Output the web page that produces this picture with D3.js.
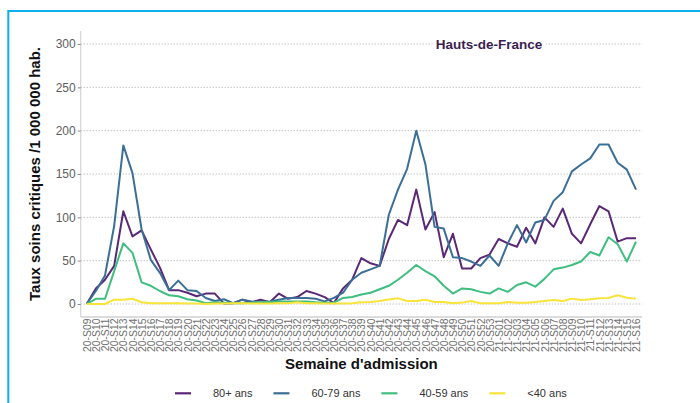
<!DOCTYPE html>
<html>
<head>
<meta charset="utf-8">
<script src="https://cdn.jsdelivr.net/npm/d3@7"></script>
<style>
  html, body { margin: 0; padding: 0; background: #fff; }
  svg { display: block; font-family: "Liberation Sans", Arial, sans-serif; }
</style>
</head>
<body>
<svg id="chart" width="700" height="403"></svg>
<script>
// ---------- DATA ----------
const weeks = [
  "20-S09","20-S10","20-S11","20-S12","20-S13","20-S14","20-S15","20-S16","20-S17","20-S18",
  "20-S19","20-S20","20-S21","20-S22","20-S23","20-S24","20-S25","20-S26","20-S27","20-S28",
  "20-S29","20-S30","20-S31","20-S32","20-S33","20-S34","20-S35","20-S36","20-S37","20-S38",
  "20-S39","20-S40","20-S41","20-S42","20-S43","20-S44","20-S45","20-S46","20-S47","20-S48",
  "20-S49","20-S50","20-S51","20-S52","20-S53","21-S01","21-S02","21-S03","21-S04","21-S05",
  "21-S06","21-S07","21-S08","21-S09","21-S10","21-S11","21-S12","21-S13","21-S14","21-S15","21-S16"
];
const age80plus = [
  0, 18, 28, 44, 107, 78, 85, 63, 42, 16,
  16, 13, 9, 12, 12, 0.5, 1, 5, 2, 5,
  2, 12, 6, 8, 15, 12, 8, 1, 18, 28,
  53, 47, 44, 75, 97, 91, 132, 86, 106, 54,
  81, 41, 41, 53, 57, 75, 70, 66, 88, 70,
  100, 89, 110, 81, 70, 92, 113, 107, 72, 76, 76
];
const age60to79 = [
  0, 15, 33, 90, 183, 151, 86, 51, 36, 16,
  27, 16, 15, 7, 3.5, 5.5, 1, 5, 3, 2,
  3, 5, 7, 7, 7, 6, 3, 7, 13, 28,
  36, 40, 44, 103, 132, 156, 200, 161, 89, 87,
  54, 53, 49, 44, 56, 44, 70, 91, 71, 94,
  97, 119, 129, 153, 161, 168, 184, 184, 163, 155, 132
];
const age40to59 = [
  0, 6, 6, 38, 70, 59, 25, 21, 15, 10,
  9, 5.5, 4, 1, 2, 1.5, 1, 1, 1.5, 2.5,
  2, 3, 3, 3, 3, 2, 1.5, 1.5, 7, 8,
  11, 13, 17, 21, 28, 36, 45, 38, 32, 21,
  12, 18, 17, 14, 12, 18, 14, 22, 25, 20,
  29, 40, 42, 45, 49, 60, 56, 77, 69, 49, 72
];
const ageUnder40 = [
  0, 0, 0, 5, 5, 6, 2, 1, 1, 1,
  1, 0.5, 0.5, 0, 0.5, 0.5, 1, 1, 0.5, 0.5,
  0.5, 1, 1, 2, 1, 1, 0.5, 0.5, 0.5, 1,
  2, 2.3, 3.4, 5.3, 6.5, 3.4, 3.4, 5, 2.3, 2.3,
  0.8, 1.6, 3.4, 0.8, 0.8, 0.8, 2.3, 1.5, 1.5, 2.3,
  3.5, 4.6, 3.5, 6.2, 4.6, 5.4, 6.5, 6.9, 10, 7.3, 6.2
];
const seriesNames = ["80+ ans", "60-79 ans", "40-59 ans", "<40 ans"];
const seriesValues = [age80plus, age60to79, age40to59, ageUnder40];
const seriesColors = ["#5a2876", "#3b6f96", "#3fbe7f", "#f9e43a"];
const yTicks = [0, 50, 100, 150, 200, 250, 300];
const chartTitle = "Hauts-de-France";
const yTitle = "Taux soins critiques /1 000 000 hab.";
const xTitle = "Semaine d'admission";

// ---------- LAYOUT ----------
const svg = d3.select("#chart");
const panel = { left: 80.7, right: 642, top: 31, bottom: 317 };

const x = d3.scalePoint().domain(weeks).range([86.7, 636]);
const y = d3.scaleLinear().domain([-15, 315]).range([panel.bottom, panel.top]);

// outer cyan frame
svg.append("rect")
  .attr("x", 8.3).attr("y", 11).attr("width", 800).attr("height", 600)
  .attr("fill", "none").attr("stroke", "#0cb0ea").attr("stroke-width", 2);

// gridlines
svg.append("g").selectAll("line").data(yTicks).join("line")
  .attr("x1", panel.left).attr("x2", panel.right)
  .attr("y1", d => y(d)).attr("y2", d => y(d))
  .attr("stroke", "#a8a8a8").attr("stroke-width", 1)
  .attr("stroke-dasharray", "1,2");

// axis lines
svg.append("line")
  .attr("x1", panel.left).attr("x2", panel.left)
  .attr("y1", panel.top).attr("y2", panel.bottom)
  .attr("stroke", "#d4d4d4").attr("stroke-width", 1.2);
svg.append("line")
  .attr("x1", panel.left).attr("x2", panel.right)
  .attr("y1", panel.bottom).attr("y2", panel.bottom)
  .attr("stroke", "#dcdcdc").attr("stroke-width", 2);

// y axis
const yAxis = d3.axisLeft(y).tickValues(yTicks).tickSize(3).tickPadding(2);
const gy = svg.append("g").attr("transform", `translate(${panel.left},0)`).call(yAxis);
gy.select(".domain").remove();
gy.selectAll(".tick line").attr("stroke", "#8a8a8a");
gy.selectAll(".tick text").attr("fill", "#5e5e5e").style("font-size", "12px")
  .style("font-family", "'Liberation Sans', Arial, sans-serif");

// x axis
const xAxis = d3.axisBottom(x).tickSize(0).tickPadding(0);
const gx = svg.append("g").attr("transform", `translate(0,${panel.bottom})`).call(xAxis);
gx.select(".domain").remove();
gx.selectAll(".tick text")
  .attr("fill", "#707070")
  .style("font-size", "10.4px")
  .style("font-family", "'Liberation Sans', Arial, sans-serif")
  .attr("text-anchor", "end")
  .attr("x", -1.5).attr("y", 0).attr("dy", "0.35em")
  .attr("transform", "rotate(-90)");

// lines
const line = d3.line().x((d, i) => x(weeks[i])).y(d => y(d));
svg.append("g").selectAll("path").data(seriesValues).join("path")
  .attr("d", d => line(d))
  .attr("fill", "none")
  .attr("stroke", (d, i) => seriesColors[i])
  .attr("stroke-width", 2)
  .attr("stroke-linejoin", "round");

// title label with white background
const tg = svg.append("g");
const tt = tg.append("text")
  .attr("x", 489).attr("y", y(300)).attr("dy", "0.36em")
  .attr("text-anchor", "middle")
  .attr("fill", "#3b1e52")
  .style("font-size", "13.5px").style("font-weight", "bold")
  .text(chartTitle);
const bb = tt.node().getBBox();
tg.insert("rect", "text")
  .attr("x", bb.x - 3).attr("y", bb.y - 2)
  .attr("width", bb.width + 6).attr("height", bb.height + 4)
  .attr("fill", "#fff");

// axis titles
svg.append("text")
  .attr("transform", `translate(39.5,${(panel.top + panel.bottom) / 2}) rotate(-90)`)
  .attr("text-anchor", "middle")
  .attr("fill", "#111")
  .style("font-size", "15px").style("font-weight", "bold")
  .text(yTitle);
svg.append("text")
  .attr("x", (panel.left + panel.right) / 2).attr("y", 369)
  .attr("text-anchor", "middle")
  .attr("fill", "#111")
  .style("font-size", "15px").style("font-weight", "bold")
  .text(xTitle);

// legend
const lg = svg.append("g");
let lx = 175;
seriesNames.forEach((name, i) => {
  lg.append("line")
    .attr("x1", lx).attr("x2", lx + 16)
    .attr("y1", 393.3).attr("y2", 393.3)
    .attr("stroke", seriesColors[i]).attr("stroke-width", 2.2);
  const t = lg.append("text")
    .attr("x", lx + 38).attr("y", 397.3)
    .attr("fill", "#333")
    .style("font-size", "11px")
    .text(name);
  lx += 38 + t.node().getComputedTextLength() + 21;
});
</script>
</body>
</html>
